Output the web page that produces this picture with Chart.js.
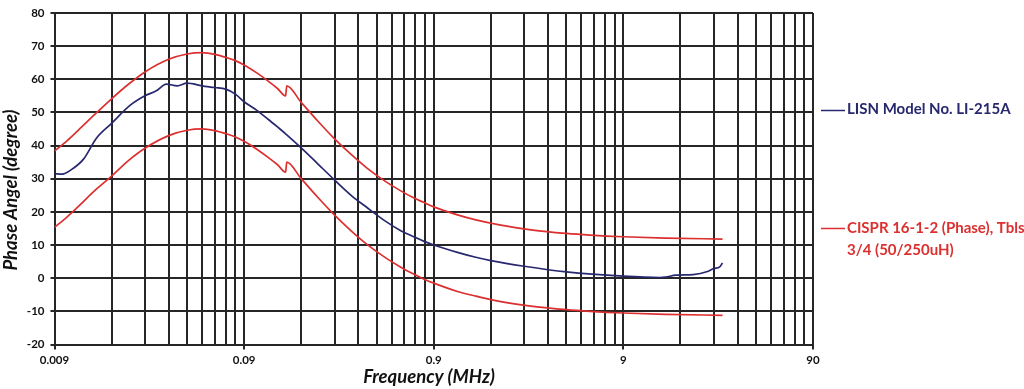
<!DOCTYPE html>
<html>
<head>
<meta charset="utf-8">
<script src="https://cdn.jsdelivr.net/npm/chart.js@4/dist/chart.umd.min.js"></script>
<style>
  html, body { margin: 0; padding: 0; background: #ffffff; }
  #wrap { width: 1024px; height: 389px; position: relative; }
</style>
</head>
<body>
<div id="wrap"><canvas id="c" width="1024" height="389"></canvas></div>
<script>
// ---- data ----
const xMajorTicks = [0.009, 0.09, 0.9, 9, 90];
const xMinorMultipliers = [1, 2, 3, 4, 5, 6, 7, 8, 9];
const yTicks = [-20, -10, 0, 10, 20, 30, 40, 50, 60, 70, 80];

const cisprFreq = [0.009, 0.0105, 0.012, 0.015, 0.018, 0.022, 0.027, 0.036, 0.045, 0.054, 0.063, 0.072, 0.081, 0.09, 0.105, 0.12, 0.135, 0.149, 0.151, 0.18, 0.22, 0.27, 0.33, 0.4, 0.5, 0.6, 0.7, 0.8, 0.9, 1.2, 1.5, 2, 3, 4.5, 6, 9, 15, 30];
const cisprUpper = [38.3, 41.5, 44.6, 49.9, 54.1, 58.4, 62.2, 66.0, 67.6, 68.0, 67.5, 66.6, 65.6, 64.3, 61.9, 59.5, 57.2, 55.0, 58.0, 53.0, 47.4, 42.0, 37.3, 33.2, 29.2, 26.4, 24.3, 22.8, 21.5, 19.1, 17.6, 16.1, 14.5, 13.5, 13.0, 12.5, 12.1, 11.8];
const cisprLower = [15.3, 18.5, 21.6, 26.9, 30.8, 35.4, 39.2, 43.0, 44.6, 45.0, 44.5, 43.6, 42.6, 41.3, 38.9, 36.5, 34.2, 32.0, 35.0, 30.0, 24.4, 19.0, 14.3, 10.2, 6.2, 3.4, 1.3, -0.3, -1.5, -4.0, -5.4, -7.0, -8.5, -9.5, -10.0, -10.5, -10.9, -11.2];

const lisnFreq = [0.009, 0.0099, 0.0109, 0.0128, 0.015, 0.018, 0.0225, 0.027, 0.031, 0.035, 0.04, 0.045, 0.054, 0.063, 0.072, 0.081, 0.09, 0.105, 0.12, 0.135, 0.15, 0.18, 0.22, 0.27, 0.33, 0.4, 0.5, 0.6, 0.7, 0.8, 0.9, 1.2, 1.5, 1.8, 2.7, 4.5, 9, 14, 15, 17, 21, 25, 27, 29, 30];
const lisnPhase = [31.5, 31.4, 32.5, 35.9, 42.3, 46.7, 52.1, 55.0, 56.5, 58.5, 58.0, 58.8, 58.0, 57.5, 57.0, 55.5, 53.2, 50.6, 48.0, 45.6, 43.4, 39.3, 34.5, 29.6, 25.0, 21.3, 17.2, 14.4, 12.6, 11.1, 10.0, 7.8, 6.3, 5.3, 3.6, 1.9, 0.6, 0.2, 0.3, 0.9, 1.1, 2.0, 2.9, 3.4, 4.6];

const legendLabels = ['LISN Model No. LI-215A', 'CISPR 16-1-2 (Phase), Tbls', '3/4 (50/250uH)'];
const xTitle = 'Frequency (MHz)';
const yTitle = 'Phase Angel (degree)';

// ---- styles ----
const RED = '#dc2f2f';
const NAVY = '#27286e';
const GRID = '#262626';

const xGridValues = [];
xMajorTicks.slice(0, -1).forEach(m => xMinorMultipliers.forEach(k => xGridValues.push(+(m * k).toPrecision(6))));
xGridValues.push(xMajorTicks[xMajorTicks.length - 1]);
const isMajor = v => xMajorTicks.some(m => Math.abs(m - v) / m < 1e-6);

const toPts = (xs, ys) => xs.map((x, i) => ({ x: x, y: ys[i] }));

const annotationPlugin = {
  id: 'sideLegendAndTitles',
  afterDraw(chart) {
    const ctx = chart.ctx;
    ctx.save();
    // axis titles
    ctx.fillStyle = '#111';
    ctx.font = 'italic bold 18.5px Lato';
    ctx.textAlign = 'center';
    ctx.textBaseline = 'middle';
    ctx.fillText(xTitle, 429, 377);
    ctx.save();
    ctx.translate(11, 190);
    ctx.rotate(-Math.PI / 2);
    ctx.fillText(yTitle, 0, 0);
    ctx.restore();
    // legend
    ctx.font = 'bold 15px Lato';
    ctx.textAlign = 'left';
    ctx.lineWidth = 1.5;
    ctx.strokeStyle = NAVY;
    ctx.beginPath(); ctx.moveTo(821, 110.5); ctx.lineTo(845, 110.5); ctx.stroke();
    ctx.fillStyle = NAVY;
    ctx.fillText(legendLabels[0], 847, 109);
    ctx.strokeStyle = RED;
    ctx.beginPath(); ctx.moveTo(821, 228.5); ctx.lineTo(845, 228.5); ctx.stroke();
    ctx.fillStyle = RED;
    ctx.fillText(legendLabels[1], 847, 228);
    ctx.fillText(legendLabels[2], 847, 250);
    ctx.restore();
  }
};

const lineStyle = { borderWidth: 1.7, pointRadius: 0, cubicInterpolationMode: 'monotone', fill: false };

new Chart(document.getElementById('c'), {
  type: 'line',
  data: {
    datasets: [
      Object.assign({ label: 'CISPR upper', data: toPts(cisprFreq, cisprUpper), borderColor: RED }, lineStyle),
      Object.assign({ label: 'CISPR lower', data: toPts(cisprFreq, cisprLower), borderColor: RED }, lineStyle),
      Object.assign({ label: legendLabels[0], data: toPts(lisnFreq, lisnPhase), borderColor: NAVY }, lineStyle)
    ]
  },
  options: {
    responsive: false,
    animation: false,
    layout: { padding: { left: 0, right: 211, top: 5, bottom: 0 } },
    plugins: { legend: { display: false }, tooltip: { enabled: false } },
    scales: {
      x: {
        type: 'logarithmic',
        min: 0.009,
        max: 90,
        afterBuildTicks: (scale) => { scale.ticks = xGridValues.map(v => ({ value: v, major: isMajor(v) })); },
        afterFit: (scale) => { scale.height = 44.5; },
        border: { color: GRID, width: 2 },
        grid: {
          color: GRID, lineWidth: 2, tickLength: 5,
          tickColor: (ctx) => (ctx.tick && isMajor(ctx.tick.value)) ? GRID : 'rgba(0,0,0,0)'
        },
        ticks: {
          autoSkip: false, maxRotation: 0, minRotation: 0, padding: 4,
          color: '#111', font: { family: 'Lato', weight: 'bold', size: 11.5 },
          callback: (v) => isMajor(v) ? String(+v.toPrecision(3)) : ''
        },
        title: { display: false, text: xTitle }
      },
      y: {
        min: -20,
        max: 80,
        afterBuildTicks: (scale) => { scale.ticks = yTicks.map(v => ({ value: v })); },
        afterFit: (scale) => { scale.width = 54.5; },
        border: { color: GRID, width: 2 },
        grid: { color: GRID, lineWidth: 2, tickLength: 4 },
        ticks: { padding: 6, color: '#111', font: { family: 'Lato', weight: 'bold', size: 11.5 } },
        title: { display: false, text: yTitle }
      }
    }
  },
  plugins: [annotationPlugin]
});
</script>
</body>
</html>
